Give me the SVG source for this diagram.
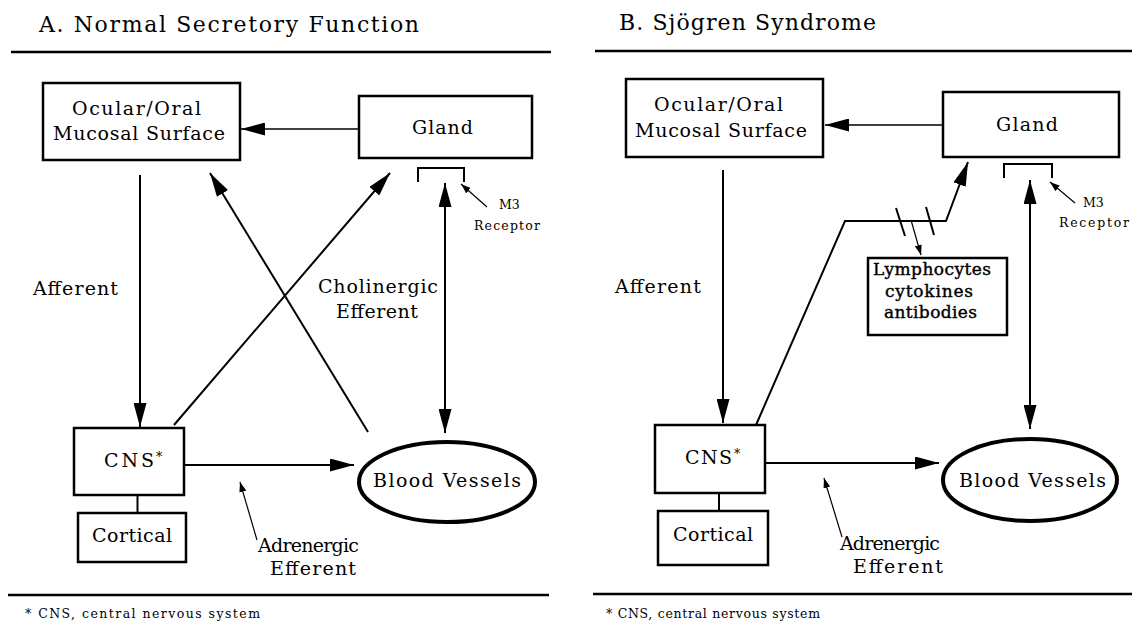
<svg xmlns="http://www.w3.org/2000/svg" width="1132" height="626" viewBox="0 0 1132 626">
<style>
text{font-family:"DejaVu Serif","Liberation Serif",serif;fill:#000}
.t{font-size:22px}
.n{font-size:19px}
.s{font-size:12.5px}
.f{font-size:12.5px}
.b{font-size:17px;stroke:#000;stroke-width:0.4}
.box{fill:#fff;stroke:#000;stroke-width:2.5}
.ell{fill:#fff;stroke:#000;stroke-width:4}
.rule{stroke:#000;stroke-width:2.5}
.ln{fill:none;stroke:#000;stroke-width:2}
.thin{fill:none;stroke:#000;stroke-width:1.5}
.ptr{fill:none;stroke:#000;stroke-width:1.2}
</style>
<defs>
<marker id="ah" viewBox="0 0 24 13" refX="24" refY="6.5" markerWidth="24" markerHeight="13" markerUnits="userSpaceOnUse" orient="auto-start-reverse">
<path d="M0,0 L24,6.5 L0,13 z" fill="#000"/>
</marker>
<marker id="sm" viewBox="0 0 10 7" refX="10" refY="3.5" markerWidth="10" markerHeight="7" markerUnits="userSpaceOnUse" orient="auto">
<path d="M0,0 L10,3.5 L0,7 z" fill="#000"/>
</marker>
</defs>
<rect width="1132" height="626" fill="#fff"/>

<!-- Panel A headers -->
<text class="t" x="39" y="32" textLength="380" lengthAdjust="spacing">A. Normal Secretory Function</text>
<line class="rule" x1="11" y1="52" x2="551" y2="52"/>
<line class="rule" x1="8" y1="595" x2="549" y2="595" stroke-width="3"/>
<text class="f" x="25" y="618" textLength="235" lengthAdjust="spacing">* CNS, central nervous system</text>

<!-- Panel B headers -->
<text class="t" x="619" y="30" textLength="257" lengthAdjust="spacing">B. Sjögren Syndrome</text>
<line class="rule" x1="595" y1="51" x2="1132" y2="51"/>
<line class="rule" x1="593" y1="594" x2="1132" y2="594" stroke-width="3"/>
<text class="f" x="606" y="618" textLength="214" lengthAdjust="spacing">* CNS, central nervous system</text>

<!-- Connectors -->
<g id="connectors">
<!-- A -->
<line class="thin" x1="359" y1="129" x2="241" y2="129" marker-end="url(#ah)"/>
<line class="ln" x1="140" y1="175" x2="140" y2="427" stroke-width="2.5" marker-end="url(#ah)"/>
<line class="ln" x1="174" y1="425" x2="390" y2="173" marker-end="url(#ah)"/>
<line class="ln" x1="368" y1="432" x2="210" y2="173" marker-end="url(#ah)"/>
<line class="ln" x1="445" y1="183" x2="445" y2="433" stroke-width="2.5" marker-start="url(#ah)" marker-end="url(#ah)"/>
<line class="ln" x1="184" y1="465" x2="354" y2="465" stroke-width="3.5" marker-end="url(#ah)"/>
<line class="ln" x1="137.5" y1="495" x2="137.5" y2="513"/>
<path class="ln" d="M418,182 V168 H464 V182" stroke-width="2.5"/>
<line class="ptr" x1="487" y1="207" x2="461" y2="184" marker-end="url(#sm)"/>
<line class="ptr" x1="257" y1="540" x2="240" y2="482" marker-end="url(#sm)"/>
<!-- B -->
<line class="thin" x1="943" y1="125" x2="825" y2="125" marker-end="url(#ah)"/>
<line class="ln" x1="723" y1="170" x2="723" y2="423" stroke-width="2.5" marker-end="url(#ah)"/>
<path class="ln" d="M756,425 L845,221 L946,221 L968,162" stroke-width="2.5" marker-end="url(#ah)"/>
<line class="ln" x1="896" y1="208" x2="905" y2="236" stroke-width="2.5"/>
<line class="ln" x1="926" y1="207" x2="934" y2="235" stroke-width="2.5"/>
<line class="ptr" x1="911" y1="220" x2="921" y2="255" stroke-width="1.5" marker-end="url(#sm)"/>
<line class="ln" x1="1030" y1="180" x2="1030" y2="429" stroke-width="2.5" marker-start="url(#ah)" marker-end="url(#ah)"/>
<line class="ln" x1="765" y1="463" x2="939" y2="463" stroke-width="2.5" marker-end="url(#ah)"/>
<line class="ln" x1="719" y1="493" x2="719" y2="511"/>
<path class="ln" d="M1004,178 V164 H1052 V178" stroke-width="2.5"/>
<line class="ptr" x1="1075" y1="203" x2="1050" y2="182" marker-end="url(#sm)"/>
<line class="ptr" x1="842" y1="537" x2="824" y2="478" marker-end="url(#sm)"/>
</g>

<!-- Panel A nodes -->
<g id="a-ocular">
<rect class="box" x="43" y="83" width="197" height="77"/>
<text class="n" x="72" y="115" textLength="129" lengthAdjust="spacing">Ocular/Oral</text>
<text class="n" x="53" y="140" textLength="172" lengthAdjust="spacing">Mucosal Surface</text>
</g>
<g id="a-gland">
<rect class="box" x="359" y="96" width="173" height="62"/>
<text class="n" x="412" y="134" textLength="61" lengthAdjust="spacing">Gland</text>
</g>
<g id="a-m3">
<text class="s" x="499" y="209">M3</text>
<text class="s" x="474" y="230" textLength="66" lengthAdjust="spacing">Receptor</text>
</g>
<g id="a-afferent"><text class="n" x="33" y="295" textLength="85" lengthAdjust="spacing">Afferent</text></g>
<g id="a-cholinergic">
<text class="n" x="318" y="293" textLength="120" lengthAdjust="spacing">Cholinergic</text>
<text class="n" x="336" y="318" textLength="82" lengthAdjust="spacing">Efferent</text>
</g>
<g id="a-cns">
<rect class="box" x="74" y="428" width="110" height="67"/>
<text class="n" x="104" y="467" textLength="50" lengthAdjust="spacing">CNS</text><text class="s" x="156" y="461">*</text>
</g>
<g id="a-blood">
<ellipse class="ell" cx="447" cy="482" rx="88" ry="40"/>
<text class="n" x="373" y="487" textLength="148" lengthAdjust="spacing">Blood Vessels</text>
</g>
<g id="a-cortical">
<rect class="box" x="78" y="513" width="108" height="49"/>
<text class="n" x="92" y="542" textLength="80" lengthAdjust="spacing">Cortical</text>
</g>
<g id="a-adrenergic">
<text class="n" x="258" y="552" textLength="101" lengthAdjust="spacing">Adrenergic</text>
<text class="n" x="270" y="575" textLength="86" lengthAdjust="spacing">Efferent</text>
</g>

<!-- Panel B nodes -->
<g id="b-ocular">
<rect class="box" x="626" y="79" width="197" height="78"/>
<text class="n" x="654" y="111" textLength="129" lengthAdjust="spacing">Ocular/Oral</text>
<text class="n" x="635" y="137" textLength="172" lengthAdjust="spacing">Mucosal Surface</text>
</g>
<g id="b-gland">
<rect class="box" x="943" y="92" width="176" height="65"/>
<text class="n" x="996" y="131" textLength="62" lengthAdjust="spacing">Gland</text>
</g>
<g id="b-m3">
<text class="s" x="1083" y="207">M3</text>
<text class="s" x="1059" y="227" textLength="70" lengthAdjust="spacing">Receptor</text>
</g>
<g id="b-afferent"><text class="n" x="615" y="293" textLength="86" lengthAdjust="spacing">Afferent</text></g>
<g id="b-lymph">
<rect class="box" x="868" y="258" width="139" height="77" stroke-width="3"/>
<text class="b" x="873" y="275" textLength="118" lengthAdjust="spacing">Lymphocytes</text>
<text class="b" x="885" y="297" textLength="88" lengthAdjust="spacing">cytokines</text>
<text class="b" x="884" y="318" textLength="93" lengthAdjust="spacing">antibodies</text>
</g>
<g id="b-cns">
<rect class="box" x="655" y="425" width="110" height="68"/>
<text class="n" x="685" y="464" textLength="47" lengthAdjust="spacing">CNS</text><text class="s" x="734" y="458">*</text>
</g>
<g id="b-blood">
<ellipse class="ell" cx="1030" cy="480" rx="87" ry="41" stroke-width="3.5"/>
<text class="n" x="959" y="487" textLength="147" lengthAdjust="spacing">Blood Vessels</text>
</g>
<g id="b-cortical">
<rect class="box" x="658" y="511" width="110" height="54"/>
<text class="n" x="673" y="541" textLength="80" lengthAdjust="spacing">Cortical</text>
</g>
<g id="b-adrenergic">
<text class="n" x="840" y="550" textLength="100" lengthAdjust="spacing">Adrenergic</text>
<text class="n" x="853" y="573" textLength="90" lengthAdjust="spacing">Efferent</text>
</g>
</svg>
